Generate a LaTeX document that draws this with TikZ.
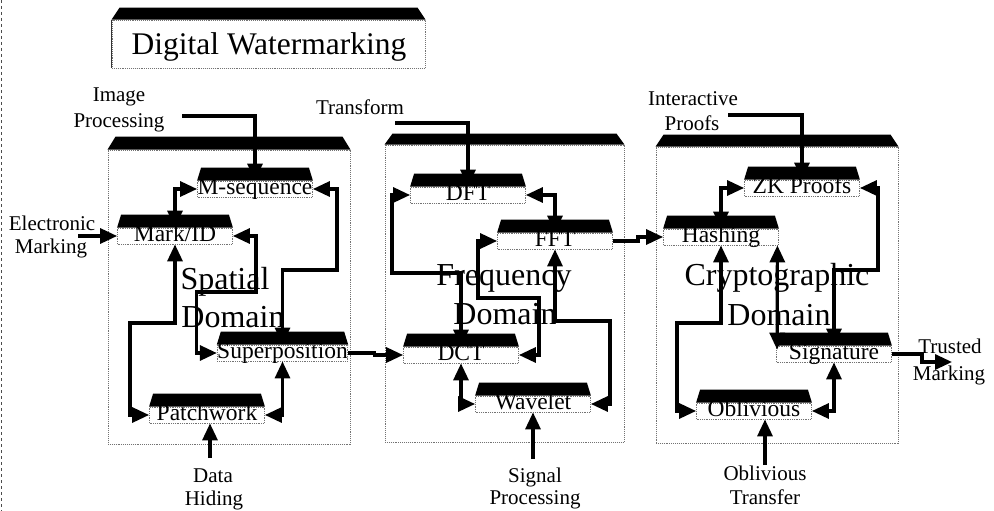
\documentclass[tikz,border=0pt]{standalone}
\usepackage{fontspec}
\setmainfont{Liberation Serif}
\usetikzlibrary{arrows.meta,calc,backgrounds}

% font sizes (1pt = one unit of the drawing grid)
\newcommand\modfont{\fontsize{23.5}{24}\selectfont}
\newcommand\domfont{\fontsize{32}{38}\selectfont}
\newcommand\labfont{\fontsize{21}{24}\selectfont}
\newcommand\ttlfont{\fontsize{31.5}{36}\selectfont}

% black bevelled bar sitting on top of a box: node, bevel, bar height
\newcommand\capbar[3]{%
  \fill (#1.north west) -- ([xshift=#2,yshift=#3]#1.north west)
        -- ([xshift=-#2,yshift=#3]#1.north east) -- (#1.north east) -- cycle;}

\begin{document}
\begin{tikzpicture}[x=1pt,y=-1pt,
  frame/.style={draw=black!55, densely dotted, line width=0.9pt, inner sep=0pt},
  module/.style={draw=black!55, densely dotted, line width=0.8pt, fill=white,
    minimum width=115pt, minimum height=16pt, inner sep=0pt,
    text height=13pt, text depth=3pt, font=\modfont},
  domlabel/.style={font=\domfont, anchor=base, inner sep=0pt},
  outlabel/.style={font=\labfont, anchor=base, inner sep=0pt},
  conn/.style={line width=3.2pt, line join=miter, -{Triangle[length=17pt,width=15pt]}},
  both/.style={line width=3.2pt, line join=miter,
    {Triangle[length=17pt,width=15pt]}-{Triangle[length=17pt,width=15pt]}}]

\useasboundingbox (0,0) rectangle (994,511);

% page edge
\draw[black!70, dashed, line width=1.2pt] (1.5,0) -- (1.5,511);

% title
\node[frame, minimum width=313pt, minimum height=48pt] (ttlbox) at (268.5,44) {};
\draw[black!80, line width=1pt] (ttlbox.north west) -- (ttlbox.south west);
\capbar{ttlbox}{8pt}{12pt}
\node[font=\ttlfont, anchor=base, inner sep=0pt] (ttl) at (269,55) {Digital Watermarking};

% the three domains
\node[frame, minimum width=242pt, minimum height=294pt] (spbox) at (229,297) {};
\node[frame, minimum width=239pt, minimum height=297pt] (frbox) at (504.5,293.5) {};
\node[frame, minimum width=242pt, minimum height=296pt] (crbox) at (777,295) {};
\capbar{spbox}{8pt}{13pt}
\capbar{frbox}{8pt}{11pt}
\capbar{crbox}{8pt}{12pt}

\node[domlabel] (sp1) at (225,289) {Spatial};
\node[domlabel] (sp2) at (233,327) {Domain};
\node[domlabel] (fr1) at (504,285) {Frequency};
\node[domlabel] (fr2) at (505,324) {Domain};
\node[domlabel] (cr1) at (777,285) {Cryptographic};
\node[domlabel] (cr2) at (779,325) {Domain};

% techniques
\node[module] (mseq)  at (255,189) {M-sequence};
\node[module] (mark)  at (175,236) {Mark/ID};
\node[module] (sup)   at (282.5,353) {Superposition};
\node[module] (patch) at (207,415) {Patchwork};
\node[module] (dft)   at (468,195) {DFT};
\node[module] (fft)   at (555,241) {FFT};
\node[module] (dct)   at (461,355) {DCT};
\node[module] (wav)   at (533,404) {Wavelet};
\node[module] (zk)    at (802,188) {ZK Proofs};
\node[module] (hash)  at (721,237) {Hashing};
\node[module] (sig)   at (834,354) {Signature};
\node[module] (obl)   at (754,411) {Oblivious};

\begin{scope}[on background layer]
  \fill[white] (0,0) rectangle (994,511);
  \foreach \n in {mseq,mark,sup,patch,dft,fft,dct,wav,zk,hash,sig,obl}
    {\capbar{\n}{4pt}{13pt}}
\end{scope}

% outside labels
\node[outlabel] (ip1) at (119,102) {Image};
\node[outlabel] (ip2) at (119,127) {Processing};
\node[outlabel] (em1) at (52,230) {Electronic};
\node[outlabel] (em2) at (51,253) {Marking};
\node[outlabel] (dh1) at (213,482) {Data};
\node[outlabel] (dh2) at (214,505) {Hiding};
\node[outlabel] (tf1) at (360,114) {Transform};
\node[outlabel] (sg1) at (535,482) {Signal};
\node[outlabel] (sg2) at (535,504) {Processing};
\node[outlabel] (iv1) at (693,106) {Interactive};
\node[outlabel] (iv2) at (692,130) {Proofs};
\node[outlabel] (ot1) at (765,480) {Oblivious};
\node[outlabel] (ot2) at (765,504) {Transfer};
\node[outlabel] (tm1) at (950,353) {Trusted};
\node[outlabel] (tm2) at (949,380) {Marking};

% free ends of the incoming and outgoing arrows
\coordinate (ipin) at (182,116);
\coordinate (emin) at (78,236);
\coordinate (dhin) at (210,458);
\coordinate (tfin) at (395,123);
\coordinate (sgin) at (533,459);
\coordinate (ivin) at (728,115);
\coordinate (otin) at (765,465);
\coordinate (tmout) at (952,362);

% spatial domain
\draw[conn] (ipin) -| (mseq.north);
\draw[conn] (emin) -- (mark.west);
\draw[both] (mseq.west) -| (mark.north);
\draw[both] (mark.south) |- (130,323) |- (patch.west);
\draw[both] (mark.east) -| (256,292) -| ($(sup.west)+(-20,0)$) -- (sup.west);
\draw[both] (mseq.east) -| (337,270) -| (sup.north);
\draw[both] (patch.east) -| (sup.south);
\draw[conn] (dhin) -- (patch.south -| dhin);
\draw[conn] (sup.east) -- ++(26,0) |- (dct.west);

% frequency domain
\draw[conn] (tfin) -| (dft.north);
\draw[both] (dft.west) -| (392,273) -| (dct.north);
\draw[both] (dft.east) -| (fft.north);
\draw[both] (fft.west) -| (478,298) -| ($(dct.east)+(20,0)$) -- (dct.east);
\draw[both] (fft.south) |- (610,321) |- (wav.east);
\draw[both] (dct.south) |- (wav.west);
\draw[conn] (sgin) -- (wav.south);
\draw[conn] (fft.east) -- ++(25,0) |- (hash.west);

% cryptographic domain
\draw[conn] (ivin) -| (zk.north);
\draw[both] (zk.west) -| (hash.north);
\draw[both] (zk.east) -| (878,270) -| (sig.north);
\draw[both] (hash.south) |- (677,323) |- (obl.west);
\draw[both] ($(hash.south east)+(-1.5,0)$) -- ($(sig.north west)+(1,4)$);
\draw[both] (obl.east) -| (sig.south);
\draw[conn] (otin) -- (obl.south -| otin);
\draw[conn] (sig.east) -- ++(30,0) |- (tmout);

\end{tikzpicture}
\end{document}
